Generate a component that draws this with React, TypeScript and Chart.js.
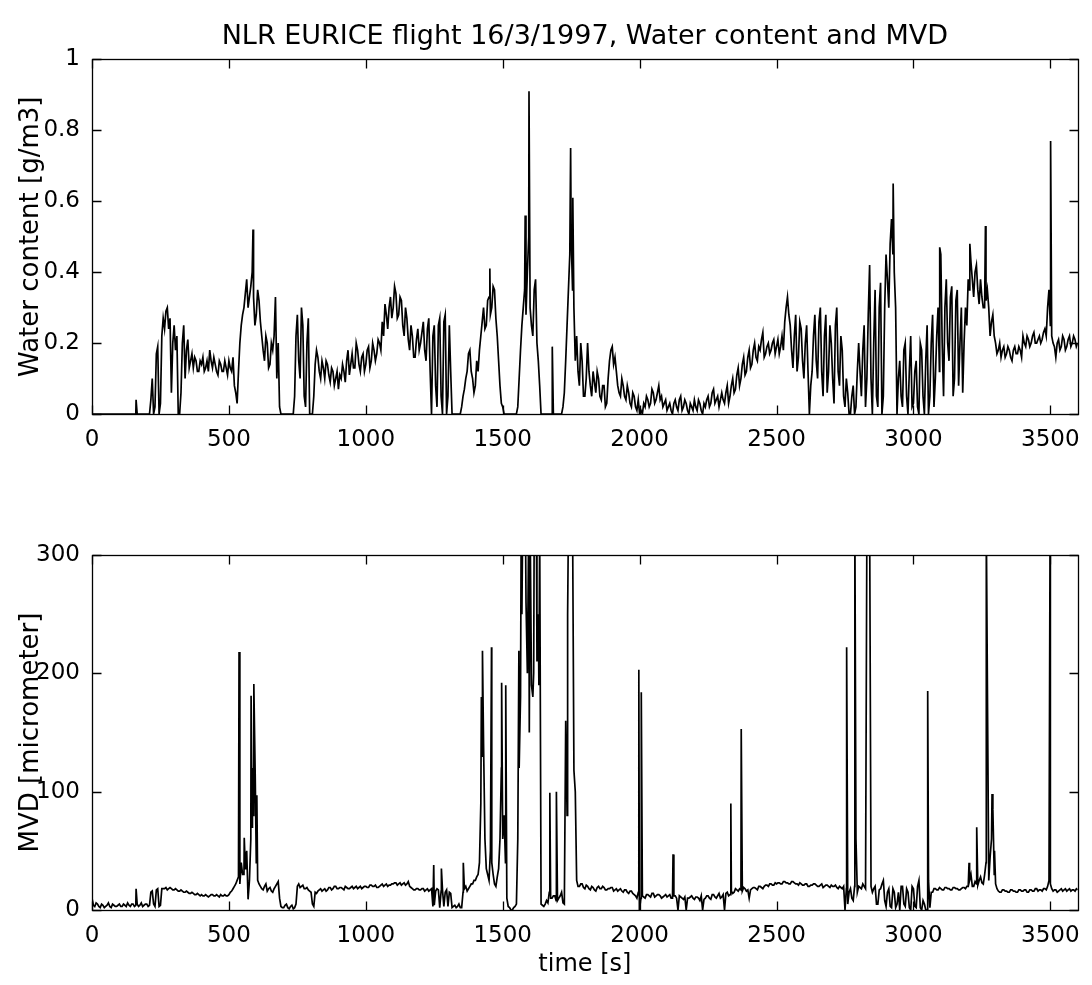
import React, { useEffect, useRef } from "react";
import { Chart, registerables } from "chart.js";

Chart.register(...registerables);

// Base samples are every 10 s (t = 0, 10, ... 3600); "mid" samples sit between them (t = 5, 15, ... 3595)
const SAMPLE_STEP = 10;
const MID_OFFSET = 5;

// Water content [g/m3] at t = 0, 10, 20, ... 3600 s
const wcValues: number[] = [
  0, 0, 0, 0, 0, 0, 0, 0, 0, 0,
  0, 0, 0, 0, 0, 0, 0, 0, 0, 0,
  0, 0, 0.1, 0.02, 0.19, 0.03, 0.27, 0.29, 0.24, 0.06,
  0.25, 0.22, 0, 0.2, 0.1, 0.21, 0.15, 0.13, 0.15, 0.12,
  0.14, 0.12, 0.15, 0.18, 0.13, 0.14, 0.11, 0.14, 0.12, 0.13,
  0.15, 0.12, 0.08, 0.03, 0.2, 0.28, 0.34, 0.3, 0.36, 0.33,
  0.28, 0.32, 0.22, 0.15, 0.2, 0.14, 0.18, 0.33, 0.2, 0,
  0, 0, 0, 0, 0.05, 0.28, 0.1, 0.25, 0.02, 0.27,
  0, 0.05, 0.18, 0.12, 0.15, 0.1, 0.14, 0.09, 0.12, 0.1,
  0.07, 0.1, 0.12, 0.15, 0.11, 0.17, 0.13, 0.18, 0.12, 0.17,
  0.14, 0.19, 0.15, 0.18, 0.17, 0.2, 0.26, 0.31, 0.24, 0.33,
  0.3, 0.34, 0.28, 0.32, 0.22, 0.27, 0.18, 0.22, 0.16, 0.24,
  0.2, 0.26, 0.15, 0.27, 0, 0.25, 0.02, 0.27, 0, 0.28,
  0.05, 0.12, 0, 0, 0, 0.02, 0.07, 0.12, 0.18, 0.1,
  0.08, 0.12, 0.22, 0.3, 0.25, 0.33, 0.3, 0.35, 0.22, 0.08,
  0.02, 0, 0, 0, 0, 0, 0.1, 0.25, 0.35, 0.4,
  0.3, 0.22, 0.38, 0.15, 0, 0, 0, 0, 0, 0,
  0, 0, 0.02, 0.15, 0.35, 0.5, 0.3, 0.22, 0.08, 0.15,
  0.05, 0.2, 0.08, 0.12, 0.06, 0.1, 0.04, 0.08, 0.03, 0.15,
  0.19, 0.16, 0.08, 0.05, 0.08, 0.04, 0.06, 0.02, 0.05, 0.01,
  0, 0, 0.02, 0.04, 0.03, 0.06, 0.04, 0.08, 0.05, 0.03,
  0.01, 0.03, 0, 0.04, 0.01, 0.05, 0.02, 0.03, 0, 0.02,
  0.04, 0.01, 0.03, 0, 0.02, 0.05, 0.03, 0.07, 0.04, 0.02,
  0.06, 0.03, 0.08, 0.05, 0.1, 0.07, 0.13, 0.1, 0.16, 0.12,
  0.18, 0.14, 0.2, 0.15, 0.18, 0.23, 0.17, 0.2, 0.18, 0.21,
  0.19, 0.17, 0.22, 0.26, 0.33, 0.25, 0.13, 0.28, 0.16, 0.24,
  0.1, 0.25, 0, 0.12, 0.28, 0.1, 0.3, 0.05, 0.28, 0.12,
  0.2, 0.03, 0.3, 0.08, 0.18, 0.02, 0.06, 0, 0.08, 0.02,
  0.2, 0.05, 0.25, 0.1, 0.42, 0, 0.35, 0.02, 0.37, 0.05,
  0.45, 0.3, 0.55, 0.4, 0, 0.15, 0.02, 0.2, 0, 0.22,
  0.03, 0.15, 0, 0.18, 0, 0.25, 0.05, 0.28, 0.1, 0.3,
  0.45, 0.05, 0.38, 0.15, 0.36, 0.1, 0.35, 0.2, 0.06, 0.3,
  0.38, 0.43, 0.33, 0.42, 0.31, 0.33, 0.3, 0.35, 0.22, 0.28,
  0.2, 0.18, 0.16, 0.19, 0.17, 0.18, 0.15, 0.19, 0.17, 0.18,
  0.22, 0.19, 0.21, 0.2, 0.23, 0.2, 0.22, 0.21, 0.24, 0.3,
  0.25, 0.2, 0.16, 0.21, 0.19, 0.21, 0.19, 0.22, 0.2, 0.21,
  0.2,
];

// Water content [g/m3] at t = 5, 15, 25, ... 3595 s
const wcMidValues: number[] = [
  0, 0, 0, 0, 0, 0, 0, 0, 0, 0,
  0, 0, 0, 0, 0, 0, 0, 0, 0, 0,
  0, 0.04, 0, 0.17, 0, 0.22, 0.24, 0.3, 0.27, 0.2,
  0.18, 0, 0.06, 0.25, 0.18, 0.13, 0.17, 0.16, 0.12, 0.15,
  0.16, 0.13, 0.12, 0.15, 0.16, 0.12, 0.15, 0.12, 0.15, 0.11,
  0.13, 0.16, 0.06, 0.12, 0.25, 0.3, 0.38, 0.33, 0.4, 0.25,
  0.35, 0.26, 0.18, 0.22, 0.13, 0.2, 0.22, 0.1, 0.02, 0,
  0, 0, 0, 0, 0.22, 0.15, 0.3, 0.05, 0.2, 0,
  0, 0.14, 0.16, 0.1, 0.13, 0.15, 0.11, 0.13, 0.08, 0.12,
  0.11, 0.14, 0.09, 0.18, 0.14, 0.13, 0.2, 0.14, 0.16, 0.12,
  0.18, 0.13, 0.2, 0.15, 0.21, 0.18, 0.22, 0.28, 0.3, 0.27,
  0.36, 0.27, 0.33, 0.25, 0.3, 0.21, 0.25, 0.16, 0.21, 0.18,
  0.23, 0.18, 0.24, 0.12, 0.22, 0.08, 0.25, 0.05, 0.26, 0,
  0.25, 0, 0, 0, 0, 0.05, 0.1, 0.17, 0.12, 0.06,
  0.15, 0.18, 0.26, 0.24, 0.32, 0.28, 0.36, 0.27, 0.15, 0.03,
  0, 0, 0, 0, 0, 0.02, 0.18, 0.3, 0.28, 0.5,
  0.25, 0.35, 0.2, 0.08, 0, 0, 0, 0, 0, 0,
  0, 0, 0.06, 0.25, 0.45, 0.35, 0.15, 0.12, 0.2, 0.05,
  0.1, 0.12, 0.05, 0.09, 0.12, 0.05, 0.08, 0.02, 0.1, 0.18,
  0.14, 0.12, 0.06, 0.1, 0.05, 0.08, 0.03, 0.06, 0.02, 0.04,
  0.01, 0.03, 0.05, 0.02, 0.07, 0.03, 0.06, 0.04, 0.02, 0.04,
  0.02, 0.01, 0.03, 0.02, 0.04, 0.01, 0.04, 0.01, 0.03, 0.01,
  0.02, 0.04, 0.01, 0.03, 0.04, 0.02, 0.06, 0.03, 0.05, 0.04,
  0.04, 0.06, 0.03, 0.08, 0.06, 0.11, 0.08, 0.14, 0.11, 0.16,
  0.13, 0.18, 0.16, 0.19, 0.21, 0.16, 0.19, 0.17, 0.2, 0.17,
  0.21, 0.19, 0.18, 0.3, 0.28, 0.18, 0.22, 0.12, 0.26, 0.15,
  0.2, 0.12, 0.08, 0.22, 0.15, 0.26, 0.12, 0.22, 0.06, 0.25,
  0.1, 0.25, 0.12, 0.22, 0.05, 0.1, 0, 0.05, 0, 0.12,
  0.12, 0.18, 0.02, 0.28, 0.1, 0.2, 0.05, 0.3, 0, 0.3,
  0.38, 0.48, 0.45, 0.3, 0.1, 0.05, 0.18, 0.05, 0.12, 0.02,
  0.12, 0.02, 0.2, 0.05, 0.15, 0, 0.2, 0.02, 0.22, 0.12,
  0.2, 0.3, 0.2, 0.33, 0.05, 0.32, 0.08, 0.3, 0.2, 0.25,
  0.35, 0.38, 0.4, 0.35, 0.38, 0.3, 0.32, 0.3, 0.26, 0.22,
  0.17, 0.2, 0.18, 0.16, 0.19, 0.16, 0.18, 0.17, 0.19, 0.16,
  0.2, 0.22, 0.19, 0.22, 0.2, 0.21, 0.2, 0.23, 0.22, 0.35,
  0.22, 0.19, 0.2, 0.18, 0.22, 0.18, 0.21, 0.19, 0.22, 0.19,
];

// Short water-content spikes between samples
const wcSpikeTimes: number[] = [161, 588, 1453, 1582, 1596, 1681, 1748, 1756, 2926, 3096, 3206, 3263, 3501];
const wcSpikeValues: number[] = [0.04, 0.52, 0.41, 0.56, 0.91, 0.19, 0.75, 0.61, 0.65, 0.47, 0.48, 0.53, 0.77];

// MVD [micrometer] at t = 0, 10, 20, ... 3600 s
const mvdValues: number[] = [
  10, 3, 5, 2, 4, 3, 6, 2, 4, 3,
  5, 3, 4, 6, 3, 5, 4, 3, 6, 4,
  5, 4, 16, 3, 18, 4, 18, 19, 18, 18,
  17, 17, 16, 16, 15, 15, 14, 14, 13, 13,
  13, 12, 12, 12, 13, 12, 12, 13, 12, 12,
  13, 16, 20, 25, 22, 30, 35, 9, 60, 80,
  40, 22, 18, 20, 16, 19, 15, 20, 24, 3,
  2, 5, 1, 4, 2, 20, 19, 21, 18, 17,
  15, 3, 14, 17, 16, 18, 17, 19, 18, 20,
  18, 19, 17, 19, 18, 20, 19, 18, 20, 19,
  20, 19, 21, 20, 19, 20, 22, 21, 20, 21,
  22, 23, 22, 21, 23, 22, 20, 18, 17, 18,
  17, 18, 17, 16, 18, 4, 18, 2, 17, 15,
  3, 14, 3, 2, 5, 2, 18, 16, 20, 22,
  25, 30, 90, 140, 35, 25, 40, 22, 28, 60,
  60, 40, 3, 0, 2, 5, 120, 250, 320, 200,
  330, 180, 320, 250, 5, 3, 8, 15, 10, 12,
  8, 12, 6, 160, 330, 320, 118, 25, 20, 22,
  18, 20, 17, 19, 16, 20, 18, 19, 17, 18,
  19, 17, 16, 18, 15, 17, 14, 16, 13, 10,
  2, 12, 10, 13, 11, 14, 12, 13, 10, 12,
  11, 13, 10, 12, 0, 11, 9, 0, 10, 12,
  9, 11, 8, 0, 10, 12, 9, 13, 10, 14,
  11, 0, 15, 13, 14, 18, 16, 17, 19, 16,
  10, 18, 19, 17, 20, 18, 21, 20, 22, 21,
  22, 23, 22, 24, 23, 22, 24, 22, 21, 22,
  21, 22, 20, 21, 22, 20, 21, 19, 21, 20,
  21, 20, 19, 20, 18, 0, 5, 18, 8, 60,
  20, 18, 20, 330, 330, 15, 20, 5, 18, 25,
  3, 18, 2, 15, 5, 0, 20, 3, 15, 0,
  18, 2, 25, 0, 5, 0, 2, 15, 18, 17,
  18, 17, 19, 18, 17, 19, 18, 17, 19, 18,
  20, 30, 20, 22, 25, 23, 30, 190, 45, 85,
  22, 16, 15, 17, 16, 15, 17, 16, 15, 17,
  16, 17, 15, 17, 16, 18, 17, 16, 18, 20,
  22, 16, 17, 16, 18, 17, 16, 18, 17, 16,
  17,
];

// MVD [micrometer] at t = 5, 15, 25, ... 3595 s
const mvdMidValues: number[] = [
  4, 6, 3, 5, 2, 4, 3, 5, 3, 4,
  3, 5, 3, 4, 5, 3, 5, 4, 3, 5,
  3, 15, 5, 17, 3, 18, 18, 17, 19, 17,
  18, 16, 17, 15, 16, 14, 15, 13, 14, 12,
  12, 13, 11, 13, 12, 13, 11, 12, 13, 12,
  15, 18, 22, 28, 40, 30, 50, 25, 70, 130,
  25, 20, 17, 22, 18, 16, 18, 22, 10, 2,
  4, 2, 3, 1, 5, 22, 20, 18, 19, 16,
  5, 15, 16, 18, 17, 16, 19, 17, 20, 18,
  19, 18, 20, 18, 19, 18, 20, 19, 18, 20,
  19, 21, 20, 21, 19, 21, 20, 22, 21, 22,
  23, 21, 23, 22, 21, 24, 19, 17, 18, 17,
  18, 16, 18, 17, 3, 16, 17, 16, 3, 17,
  15, 2, 4, 3, 2, 15, 20, 18, 22, 25,
  28, 40, 130, 60, 30, 50, 30, 20, 35, 120,
  80, 10, 2, 0, 3, 60, 180, 300, 260, 330,
  190, 330, 210, 320, 4, 5, 6, 10, 12, 8,
  10, 15, 5, 80, 330, 330, 100, 20, 22, 19,
  21, 18, 20, 17, 19, 18, 20, 17, 18, 19,
  16, 18, 17, 16, 17, 15, 16, 14, 12, 15,
  10, 11, 13, 12, 14, 11, 13, 12, 11, 13,
  12, 10, 12, 10, 12, 10, 11, 10, 11, 10,
  11, 10, 12, 9, 12, 10, 13, 11, 12, 10,
  13, 14, 12, 16, 15, 17, 18, 16, 18, 17,
  17, 19, 18, 20, 19, 20, 21, 22, 21, 23,
  23, 22, 24, 23, 22, 24, 23, 22, 23, 21,
  22, 20, 21, 22, 21, 20, 22, 20, 21, 19,
  20, 21, 18, 19, 20, 18, 15, 10, 20, 15,
  19, 22, 18, 330, 20, 18, 5, 17, 22, 8,
  15, 3, 18, 2, 15, 20, 5, 18, 2, 20,
  3, 20, 2, 8, 0, 25, 15, 18, 17, 19,
  17, 19, 18, 17, 19, 18, 17, 18, 19, 20,
  25, 20, 24, 21, 28, 22, 40, 25, 60, 30,
  18, 15, 17, 16, 15, 17, 16, 15, 17, 16,
  17, 15, 17, 16, 18, 16, 17, 18, 17, 25,
  18, 17, 15, 17, 16, 18, 17, 16, 17, 18,
];

// Short MVD spikes between samples
const mvdSpikeTimes: number[] = [
  161, 537, 556, 562, 581, 586, 591, 596, 602, 1248, 1276, 1356, 1422, 1426, 1459, 1496, 1511,
  1559, 1567, 1573, 1583, 1597, 1603, 1613, 1623, 1632, 1672, 1696, 1737, 1743, 1997, 1999, 2006,
  2122, 2333, 2371, 2756, 2786, 2836, 3052, 3203, 3231, 3266, 3287, 3296, 3499,
];
const mvdSpikeValues: number[] = [
  18, 218, 61, 45, 181, 120, 191, 115, 97, 38, 35, 40, 180, 219, 222, 192, 190,
  219, 300, 330, 330, 150, 330, 200, 330, 190, 99, 100, 250, 330, 203, 0, 184,
  47, 90, 153, 222, 330, 330, 185, 40, 70, 330, 98, 50, 330,
];

const xTickValues: number[] = [0, 500, 1000, 1500, 2000, 2500, 3000, 3500];
const wcTickValues: number[] = [0, 0.2, 0.4, 0.6, 0.8, 1];
const mvdTickValues: number[] = [0, 100, 200, 300];

const TITLE = "NLR EURICE flight 16/3/1997, Water content and MVD";
const WC_LABEL = "Water content [g/m3]";
const MVD_LABEL = "MVD [micrometer]";
const TIME_LABEL = "time [s]";

const FONT = "'DejaVu Sans', 'Liberation Sans', Arial, sans-serif";

function buildPoints(base: number[], mid: number[], spikeT: number[], spikeV: number[]) {
  const pts = base.map((v, i) => ({ x: i * SAMPLE_STEP, y: v }));
  mid.forEach((v, i) => pts.push({ x: i * SAMPLE_STEP + MID_OFFSET, y: v }));
  spikeT.forEach((t, i) => pts.push({ x: t, y: spikeV[i] }));
  pts.sort((a, b) => a.x - b.x);
  return pts;
}

const framePlugin = {
  id: "matlabFrame",
  afterDraw(chart: any) {
    const { ctx, chartArea: a, scales } = chart;
    const L = 9;
    ctx.save();
    ctx.strokeStyle = "#000";
    ctx.lineWidth = 1.3;
    const l = Math.round(a.left) + 0.5;
    const r = Math.round(a.right) + 0.5;
    const t = Math.round(a.top) + 0.5;
    const b = Math.round(a.bottom) + 0.5;
    ctx.strokeRect(l, t, r - l, b - t);
    ctx.beginPath();
    scales.x.ticks.forEach((tk: any) => {
      const px = Math.round(scales.x.getPixelForValue(tk.value)) + 0.5;
      ctx.moveTo(px, b);
      ctx.lineTo(px, b - L);
      ctx.moveTo(px, t);
      ctx.lineTo(px, t + L);
    });
    scales.y.ticks.forEach((tk: any) => {
      const py = Math.round(scales.y.getPixelForValue(tk.value)) + 0.5;
      ctx.moveTo(l, py);
      ctx.lineTo(l + L, py);
      ctx.moveTo(r, py);
      ctx.lineTo(r - L, py);
    });
    ctx.stroke();
    ctx.restore();
  },
};

function makeConfig(opts: {
  points: { x: number; y: number }[];
  yMax: number;
  yTicks: number[];
  yLabel: string;
  xLabel?: string;
  title?: string;
  padTop: number;
  xHeight: number;
}): any {
  const tickFont = { family: FONT, size: 23 };
  return {
    type: "line",
    data: {
      datasets: [
        {
          data: opts.points,
          borderColor: "#000",
          borderWidth: 1.7,
          pointRadius: 0,
          tension: 0,
          fill: false,
        },
      ],
    },
    options: {
      animation: false,
      responsive: false,
      maintainAspectRatio: false,
      parsing: false,
      normalized: true,
      layout: { padding: { left: 0, right: 13, top: opts.padTop, bottom: 0 } },
      plugins: {
        legend: { display: false },
        tooltip: { enabled: false },
        title: opts.title
          ? {
              display: true,
              text: opts.title,
              fullSize: false,
              color: "#000",
              font: { family: FONT, size: 27, weight: "normal", lineHeight: 1.2 },
              padding: { top: 0, bottom: 6 },
            }
          : { display: false },
      },
      scales: {
        x: {
          type: "linear",
          min: 0,
          max: 3600,
          grid: { display: false, drawTicks: false },
          border: { display: false },
          afterBuildTicks: (s: any) => {
            s.ticks = xTickValues.map((v) => ({ value: v }));
          },
          ticks: {
            autoSkip: false,
            maxRotation: 0,
            color: "#000",
            font: tickFont,
            padding: 12,
            callback: (v: number) => String(v),
          },
          title: opts.xLabel
            ? {
                display: true,
                text: opts.xLabel,
                color: "#000",
                font: { family: FONT, size: 24, lineHeight: 1.2 },
                padding: { top: 0, bottom: 6 },
              }
            : { display: false },
          afterFit: (s: any) => {
            s.height = opts.xHeight;
          },
        },
        y: {
          type: "linear",
          min: 0,
          max: opts.yMax,
          grid: { display: false, drawTicks: false },
          border: { display: false },
          afterBuildTicks: (s: any) => {
            s.ticks = opts.yTicks.map((v) => ({ value: v }));
          },
          ticks: {
            autoSkip: false,
            color: "#000",
            font: tickFont,
            padding: 12,
            callback: (v: number) => String(Math.round(v * 10) / 10),
          },
          title: {
            display: true,
            text: opts.yLabel,
            color: "#000",
            font: { family: FONT, size: 26, lineHeight: 1.2 },
            padding: { top: 16, bottom: 0 },
          },
          afterFit: (s: any) => {
            s.width = 92;
          },
        },
      },
    },
    plugins: [framePlugin],
  };
}

export default function App() {
  const topRef = useRef<HTMLCanvasElement | null>(null);
  const botRef = useRef<HTMLCanvasElement | null>(null);

  useEffect(() => {
    const wcPoints = buildPoints(wcValues, wcMidValues, wcSpikeTimes, wcSpikeValues);
    const mvdPoints = buildPoints(mvdValues, mvdMidValues, mvdSpikeTimes, mvdSpikeValues);
    const top = new Chart(
      topRef.current as HTMLCanvasElement,
      makeConfig({
        points: wcPoints,
        yMax: 1,
        yTicks: wcTickValues,
        yLabel: WC_LABEL,
        title: TITLE,
        padTop: 21,
        xHeight: 66,
      })
    );
    const bot = new Chart(
      botRef.current as HTMLCanvasElement,
      makeConfig({
        points: mvdPoints,
        yMax: 300,
        yTicks: mvdTickValues,
        yLabel: MVD_LABEL,
        xLabel: TIME_LABEL,
        padTop: 75,
        xHeight: 75,
      })
    );
    return () => {
      top.destroy();
      bot.destroy();
    };
  }, []);

  return (
    <div style={{ position: "absolute", left: 0, top: 0, width: 1092, height: 985, background: "#fff" }}>
      <canvas ref={topRef} width={1092} height={480} style={{ position: "absolute", left: 0, top: 0 }} />
      <canvas ref={botRef} width={1092} height={505} style={{ position: "absolute", left: 0, top: 480 }} />
    </div>
  );
}
